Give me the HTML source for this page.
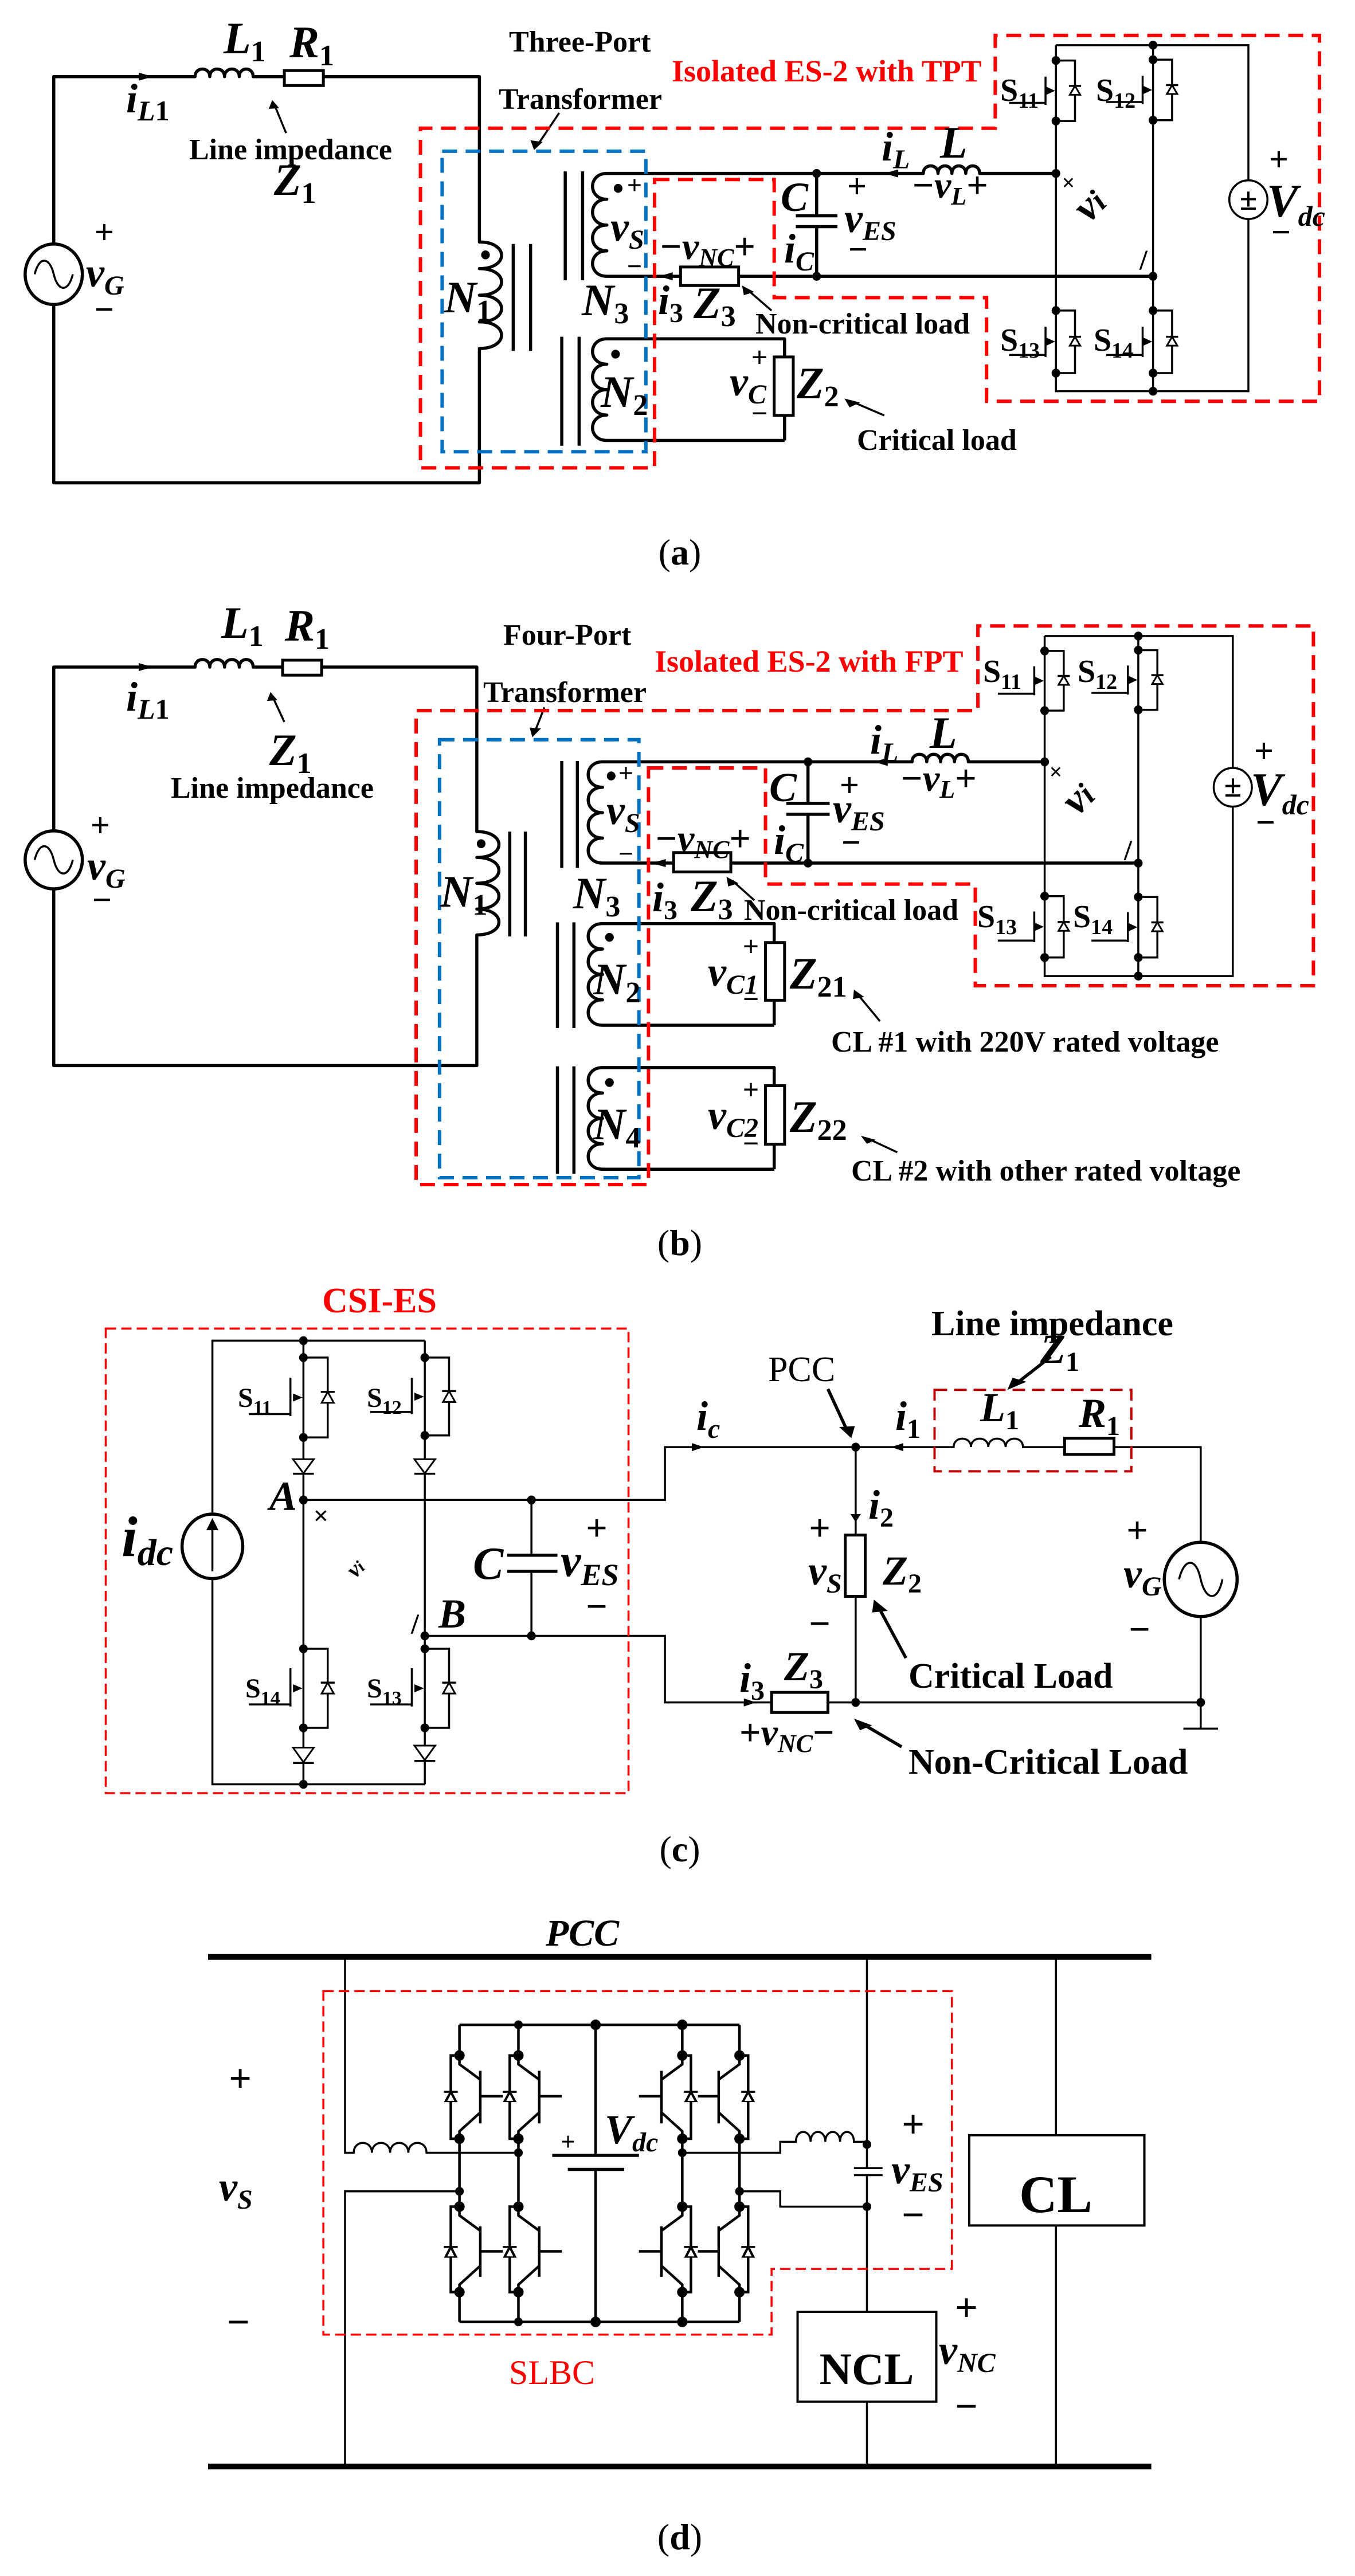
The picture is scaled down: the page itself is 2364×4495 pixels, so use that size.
<!DOCTYPE html>
<html><head><meta charset="utf-8">
<style>
html,body{margin:0;padding:0;background:#fff}
svg{display:block}
.k{fill:none;stroke:#000;stroke-width:5.5;vector-effect:non-scaling-stroke;stroke-linejoin:round}
.t{fill:none;stroke:#000;stroke-width:3.5;vector-effect:non-scaling-stroke}
.bx{fill:#fff;stroke:#000;stroke-width:5;vector-effect:non-scaling-stroke}
.r{fill:none;stroke:#f00;stroke-width:6;stroke-dasharray:26 15;vector-effect:non-scaling-stroke}
.r2{fill:none;stroke:#f00;stroke-width:3.5;stroke-dasharray:18 9;vector-effect:non-scaling-stroke}
.dr{fill:none;stroke:#c00000;stroke-width:4;stroke-dasharray:22 12;vector-effect:non-scaling-stroke}
.b{fill:none;stroke:#0070c0;stroke-width:6;stroke-dasharray:26 15;vector-effect:non-scaling-stroke}
.f{fill:#000;stroke:none}
.df{fill:#fff;stroke:#000;stroke-width:3;vector-effect:non-scaling-stroke}
text{font-family:"Liberation Serif",serif;font-weight:bold;fill:#000}
.v{font-style:italic}
.n{font-style:normal}
.red{fill:#f00}
</style></head><body>
<svg width="2364" height="4495" viewBox="0 0 2364 4495" xmlns="http://www.w3.org/2000/svg">
<rect width="2364" height="4495" fill="#fff"/>

<!-- ================= PANEL A ================= -->
<g transform="matrix(1.5125 0 0 .7038 0 0)">
<path class="k" d="M62,605 V190 H225 c0,-25 17,-25 17,0 c0,-25 17,-25 17,0 c0,-25 17,-25 17,0 c0,-25 16,-25 16,0 H328"/>
<path class="k" d="M373,190 H553 V600 c34,0 34,66 0,66 c34,0 34,66 0,66 c34,0 34,66 0,66 c34,0 34,66 0,66 V1197 H62 V755"/>
<rect class="bx" x="328" y="175" width="45" height="37"/>
<ellipse class="k" cx="62" cy="680" rx="33" ry="75"/>
<path class="t" d="M40,680 c5,-45 17,-45 22,0 c5,45 17,45 22,0"/>
<path class="k" d="M592,605 V870 M612,605 V870"/>
<ellipse class="f" cx="560" cy="632" rx="5" ry="11"/>
<path class="k" d="M1218,430 H1130 c0,-25 -16,-25 -16,0 c0,-25 -16,-25 -16,0 c0,-25 -16,-25 -16,0 c0,-25 -17,-25 -17,0 H700 c-22,0 -22,64 0,64 c-22,0 -22,64 0,64 c-22,0 -22,64 0,64 c-22,0 -22,63 0,63 H785 M852,685 H1330"/>
<rect class="bx" x="785" y="662" width="67" height="46"/>
<path class="k" d="M942,430 V535 M942,562 V685 M918,535 H966 M918,562 H966"/>
<path class="k" d="M652,425 V695 M672,425 V695"/>
<path class="k" d="M905,1092 H700 c-22,0 -22,-63 0,-63 c-22,0 -22,-63 0,-63 c-22,0 -22,-63 0,-63 c-22,0 -22,-63 0,-63 H905 V885 M905,1030 V1092"/>
<rect class="bx" x="893" y="885" width="22" height="145"/>
<path class="k" d="M648,835 V1105 M668,835 V1105"/>
<ellipse class="f" cx="713" cy="467" rx="5" ry="11"/>
<ellipse class="f" cx="710" cy="878" rx="5" ry="11"/>
<path class="t" d="M1218,112 H1440 V447 M1440,543 V970 H1218 V112 M1330,112 V970"/>
<ellipse class="t" cx="1440" cy="495" rx="22" ry="48"/>
<path class="t" d="M1218,150 h22 V300 h-22 M1206,190 V260 M1206,255 h-42"/>
<polygon class="f" points="1217,225 1207,215 1207,235"/>
<polygon class="df" points="1234,235 1246,235 1240,213"/><path class="t" d="M1233,213 h14"/>
<path class="t" d="M1330,148 h22 V298 h-22 M1318,188 V258 M1318,253 h-42"/>
<polygon class="f" points="1329,223 1319,213 1319,233"/>
<polygon class="df" points="1346,233 1358,233 1352,211"/><path class="t" d="M1345,211 h14"/>
<path class="t" d="M1218,770 h22 V925 h-22 M1206,810 V885 M1206,880 h-42"/>
<polygon class="f" points="1217,847 1207,837 1207,857"/>
<polygon class="df" points="1234,857 1246,857 1240,835"/><path class="t" d="M1233,835 h14"/>
<path class="t" d="M1330,770 h22 V925 h-22 M1318,810 V885 M1318,880 h-42"/>
<polygon class="f" points="1329,847 1319,837 1319,857"/>
<polygon class="df" points="1346,857 1358,857 1352,835"/><path class="t" d="M1345,835 h14"/>
<g class="f">
<ellipse cx="942" cy="430" rx="5" ry="11"/><ellipse cx="942" cy="685" rx="5" ry="11"/>
<ellipse cx="1218" cy="430" rx="5" ry="11"/><ellipse cx="1330" cy="685" rx="5" ry="11"/>
<ellipse cx="1330" cy="112" rx="5" ry="11"/><ellipse cx="1330" cy="970" rx="5" ry="11"/>
<ellipse cx="1218" cy="150" rx="5" ry="11"/><ellipse cx="1218" cy="300" rx="5" ry="11"/>
<ellipse cx="1330" cy="148" rx="5" ry="11"/><ellipse cx="1330" cy="298" rx="5" ry="11"/>
<ellipse cx="1218" cy="770" rx="5" ry="11"/><ellipse cx="1218" cy="925" rx="5" ry="11"/>
<ellipse cx="1330" cy="770" rx="5" ry="11"/><ellipse cx="1330" cy="925" rx="5" ry="11"/>
</g>
<polygon class="f" points="160,180 176,190 160,200"/>
<polygon class="f" points="1020,430 1036,420 1036,440"/>
<polygon class="f" points="760,685 776,675 776,695"/>
<path class="t" d="M330,330 L317,262"/><polygon class="f" points="314,248 310,270 322,268"/>
<path class="t" d="M645,280 L620,360"/><polygon class="f" points="616,372 612,348 626,352"/>
<path class="t" d="M890,770 L862,718"/><polygon class="f" points="856,708 858,732 870,724"/>
<path class="t" d="M1020,1030 L982,995"/><polygon class="f" points="974,988 980,1010 992,998"/>
<rect class="b" x="510" y="375" width="235" height="745"/>
<path class="r" d="M755,445 H893 V738 H1138 V995 H1522 V88 H1148 V318 H485 V1160 H755 Z"/>
</g>
<g>
<g font-size="78">
<text class="v" transform="translate(390 93)">L<tspan class="n" font-size="52" dy="14">1</tspan></text>
<text class="v" transform="translate(505 100)">R<tspan class="n" font-size="52" dy="14">1</tspan></text>
<text class="v" font-size="72" transform="translate(220 196)">i<tspan font-size="50" dy="14">L</tspan><tspan class="n" font-size="50">1</tspan></text>
<text class="v" transform="translate(478 340)">Z<tspan class="n" font-size="52" dy="14">1</tspan></text>
<text class="v" font-size="72" transform="translate(150 500)">v<tspan font-size="48" dy="14">G</tspan></text>
<text class="v" transform="translate(775 545)">N<tspan class="n" font-size="52" dy="14">1</tspan></text>
<text class="v" transform="translate(1015 550)">N<tspan class="n" font-size="52" dy="14">3</tspan></text>
<text class="v" transform="translate(1048 710)">N<tspan class="n" font-size="52" dy="14">2</tspan></text>
<text class="v" font-size="72" transform="translate(1065 420)">v<tspan font-size="48" dy="14">S</tspan></text>
<text class="v" font-size="66" transform="translate(1150 452)">−v<tspan font-size="44" dy="12">NC</tspan><tspan class="n" dy="-12">+</tspan></text>
<text class="v" font-size="72" transform="translate(1148 548)">i<tspan class="n" font-size="48" dy="14">3</tspan></text>
<text class="v" transform="translate(1210 555)">Z<tspan class="n" font-size="52" dy="14">3</tspan></text>
<text class="v" font-size="72" transform="translate(1362 368)">C</text>
<text class="v" font-size="72" transform="translate(1368 458)">i<tspan font-size="48" dy="14">C</tspan></text>
<text class="v" font-size="72" transform="translate(1473 405)">v<tspan font-size="48" dy="14">ES</tspan></text>
<text class="v" font-size="72" transform="translate(1538 280)">i<tspan font-size="48" dy="14">L</tspan></text>
<text class="v" transform="translate(1640 275)">L</text>
<text class="v" font-size="66" transform="translate(1590 345)">−v<tspan font-size="44" dy="12">L</tspan><tspan class="n" dy="-12">+</tspan></text>
<text class="v" font-size="82" transform="translate(2210 378)">V<tspan font-size="50" dy="16">dc</tspan></text>
<text class="v" font-size="72" transform="translate(1273 690)">v<tspan font-size="48" dy="14">C</tspan></text>
<text class="v" transform="translate(1390 695)">Z<tspan class="n" font-size="52" dy="14">2</tspan></text>
<text class="v" font-size="72" transform="translate(1900 390) rotate(-45)">v<tspan font-size="56">i</tspan></text>
</g>
<g font-size="60" text-anchor="middle">
<text transform="translate(182 425)">+</text><text transform="translate(182 560)">−</text>
<text font-size="46" transform="translate(1107 338)">+</text><text font-size="46" transform="translate(1107 480)">−</text>
<text transform="translate(1495 345)">+</text><text transform="translate(1497 455)">−</text>
<text transform="translate(2231 298)">+</text><text transform="translate(2235 425)">−</text>
<text font-size="50" transform="translate(1325 640)">+</text><text font-size="50" transform="translate(1325 738)">−</text>
<text font-size="56" transform="translate(2178 366)">±</text>
<text font-size="40" transform="translate(1864 332)">×</text>
<text font-size="50" transform="translate(1995 470)">/</text>
</g>
<g font-size="52">
<text transform="translate(330 278)">Line impedance</text>
<text transform="translate(888 90)">Three-Port</text>
<text transform="translate(870 190)">Transformer</text>
<text class="red" font-size="54" transform="translate(1172 142)">Isolated ES-2 with TPT</text>
<text transform="translate(1318 582)">Non-critical load</text>
<text transform="translate(1495 785)">Critical load</text>
<text font-size="56" transform="translate(1745 176)">S<tspan font-size="38" dy="12">11</tspan></text>
<text font-size="56" transform="translate(1912 176)">S<tspan font-size="38" dy="12">12</tspan></text>
<text font-size="56" transform="translate(1745 612)">S<tspan font-size="38" dy="12">13</tspan></text>
<text font-size="56" transform="translate(1908 612)">S<tspan font-size="38" dy="12">14</tspan></text>
</g>
<text font-size="64" text-anchor="middle" class="n" style="font-weight:normal" transform="translate(1186 985)">(<tspan font-weight="bold">a</tspan>)</text>
</g>

<!-- ================= PANEL B ================= -->
<g transform="matrix(1.5125 0 0 .7038 0 1050)">
<path class="k" d="M62,570 V162 H225 c0,-25 17,-25 17,0 c0,-25 17,-25 17,0 c0,-25 17,-25 17,0 c0,-25 16,-25 16,0 H326"/>
<path class="k" d="M371,162 H550 V570 c34,0 34,64 0,64 c34,0 34,64 0,64 c34,0 34,64 0,64 c34,0 34,64 0,64 V1150 H62 V712"/>
<rect class="bx" x="326" y="145" width="45" height="37"/>
<ellipse class="k" cx="62" cy="640" rx="33" ry="72"/>
<path class="t" d="M40,640 c5,-45 17,-45 22,0 c5,45 17,45 22,0"/>
<path class="k" d="M588,570 V830 M606,570 V830"/>
<ellipse class="f" cx="555" cy="600" rx="5" ry="11"/>
<path class="k" d="M1205,397 H1117 c0,-25 -16,-25 -16,0 c0,-25 -16,-25 -16,0 c0,-25 -16,-25 -16,0 c0,-25 -17,-25 -17,0 H695 c-22,0 -22,63 0,63 c-22,0 -22,63 0,63 c-22,0 -22,63 0,63 c-22,0 -22,62 0,62 H777 M843,648 H1313"/>
<rect class="bx" x="777" y="622" width="66" height="48"/>
<path class="k" d="M932,397 V500 M932,527 V648 M907,500 H957 M907,527 H957"/>
<path class="k" d="M648,395 V660 M666,395 V660"/>
<path class="k" d="M893,1050 H695 c-22,0 -22,-63 0,-63 c-22,0 -22,-63 0,-63 c-22,0 -22,-63 0,-63 c-22,0 -22,-63 0,-63 H893 V845 M893,988 V1050"/>
<rect class="bx" x="883" y="845" width="22" height="143"/>
<path class="k" d="M643,795 V1057 M662,795 V1057"/>
<path class="k" d="M893,1407 H695 c-22,0 -22,-63 0,-63 c-22,0 -22,-63 0,-63 c-22,0 -22,-63 0,-63 c-22,0 -22,-63 0,-63 H893 V1200 M893,1345 V1407"/>
<rect class="bx" x="883" y="1200" width="22" height="145"/>
<path class="k" d="M643,1152 V1418 M662,1152 V1418"/>
<g class="f">
<ellipse cx="705" cy="432" rx="5" ry="11"/><ellipse cx="703" cy="832" rx="5" ry="11"/><ellipse cx="703" cy="1192" rx="5" ry="11"/>
<ellipse cx="932" cy="397" rx="5" ry="11"/><ellipse cx="932" cy="648" rx="5" ry="11"/>
<ellipse cx="1205" cy="397" rx="5" ry="11"/><ellipse cx="1313" cy="648" rx="5" ry="11"/>
<ellipse cx="1313" cy="85" rx="5" ry="11"/><ellipse cx="1313" cy="928" rx="5" ry="11"/>
<ellipse cx="1205" cy="122" rx="5" ry="11"/><ellipse cx="1205" cy="270" rx="5" ry="11"/>
<ellipse cx="1313" cy="120" rx="5" ry="11"/><ellipse cx="1313" cy="268" rx="5" ry="11"/>
<ellipse cx="1205" cy="730" rx="5" ry="11"/><ellipse cx="1205" cy="882" rx="5" ry="11"/>
<ellipse cx="1313" cy="732" rx="5" ry="11"/><ellipse cx="1313" cy="882" rx="5" ry="11"/>
</g>
<path class="t" d="M1205,85 H1422 V412 M1422,508 V928 H1205 V85 M1313,85 V928"/>
<ellipse class="t" cx="1422" cy="460" rx="22" ry="48"/>
<path class="t" d="M1205,122 h22 V270 h-22 M1193,160 V232 M1193,228 h-42"/>
<polygon class="f" points="1204,196 1194,186 1194,206"/>
<polygon class="df" points="1221,206 1233,206 1227,184"/><path class="t" d="M1220,184 h14"/>
<path class="t" d="M1313,120 h22 V268 h-22 M1301,158 V230 M1301,226 h-42"/>
<polygon class="f" points="1312,194 1302,184 1302,204"/>
<polygon class="df" points="1329,204 1341,204 1335,182"/><path class="t" d="M1328,182 h14"/>
<path class="t" d="M1205,730 h22 V882 h-22 M1193,768 V844 M1193,840 h-42"/>
<polygon class="f" points="1204,806 1194,796 1194,816"/>
<polygon class="df" points="1221,816 1233,816 1227,794"/><path class="t" d="M1220,794 h14"/>
<path class="t" d="M1313,732 h22 V882 h-22 M1301,770 V844 M1301,840 h-42"/>
<polygon class="f" points="1312,807 1302,797 1302,817"/>
<polygon class="df" points="1329,817 1341,817 1335,795"/><path class="t" d="M1328,795 h14"/>
<polygon class="f" points="160,152 176,162 160,172"/>
<polygon class="f" points="1008,397 1024,387 1024,407"/>
<polygon class="f" points="752,648 768,638 768,658"/>
<path class="t" d="M328,298 L315,238"/><polygon class="f" points="312,224 308,246 320,244"/>
<path class="t" d="M628,262 L617,322"/><polygon class="f" points="614,336 611,312 624,314"/>
<path class="t" d="M870,740 L845,692"/><polygon class="f" points="838,682 840,706 852,698"/>
<path class="t" d="M1015,1040 L990,975"/><polygon class="f" points="985,962 984,985 997,980"/>
<path class="t" d="M1035,1365 L1002,1332"/><polygon class="f" points="993,1324 1000,1344 1010,1334"/>
<rect class="b" x="507" y="342" width="230" height="1086"/>
<path class="r" d="M748,412 H883 V700 H1125 V952 H1515 V60 H1128 V270 H480 V1445 H748 Z"/>
</g>
<g>
<g font-size="78">
<text class="v" transform="translate(386 1113)">L<tspan class="n" font-size="52" dy="14">1</tspan></text>
<text class="v" transform="translate(497 1118)">R<tspan class="n" font-size="52" dy="14">1</tspan></text>
<text class="v" font-size="72" transform="translate(220 1240)">i<tspan font-size="50" dy="14">L</tspan><tspan class="n" font-size="50">1</tspan></text>
<text class="v" transform="translate(470 1335)">Z<tspan class="n" font-size="52" dy="14">1</tspan></text>
<text class="v" font-size="72" transform="translate(152 1535)">v<tspan font-size="48" dy="14">G</tspan></text>
<text class="v" transform="translate(768 1582)">N<tspan class="n" font-size="52" dy="14">1</tspan></text>
<text class="v" transform="translate(1000 1585)">N<tspan class="n" font-size="52" dy="14">3</tspan></text>
<text class="v" transform="translate(1035 1735)">N<tspan class="n" font-size="52" dy="14">2</tspan></text>
<text class="v" transform="translate(1035 1988)">N<tspan class="n" font-size="52" dy="14">4</tspan></text>
<text class="v" font-size="72" transform="translate(1058 1438)">v<tspan font-size="48" dy="14">S</tspan></text>
<text class="v" font-size="66" transform="translate(1142 1485)">−v<tspan font-size="44" dy="12">NC</tspan><tspan class="n" dy="-12">+</tspan></text>
<text class="v" font-size="72" transform="translate(1138 1590)">i<tspan class="n" font-size="48" dy="14">3</tspan></text>
<text class="v" transform="translate(1205 1590)">Z<tspan class="n" font-size="52" dy="14">3</tspan></text>
<text class="v" font-size="72" transform="translate(1342 1398)">C</text>
<text class="v" font-size="72" transform="translate(1350 1490)">i<tspan font-size="48" dy="14">C</tspan></text>
<text class="v" font-size="72" transform="translate(1453 1435)">v<tspan font-size="48" dy="14">ES</tspan></text>
<text class="v" font-size="72" transform="translate(1518 1315)">i<tspan font-size="48" dy="14">L</tspan></text>
<text class="v" transform="translate(1622 1305)">L</text>
<text class="v" font-size="66" transform="translate(1570 1380)">−v<tspan font-size="44" dy="12">L</tspan><tspan class="n" dy="-12">+</tspan></text>
<text class="v" font-size="82" transform="translate(2182 1405)">V<tspan font-size="50" dy="16">dc</tspan></text>
<text class="v" font-size="72" transform="translate(1235 1720)">v<tspan font-size="48" dy="14">C1</tspan></text>
<text class="v" transform="translate(1378 1725)">Z<tspan class="n" font-size="52" dy="14">21</tspan></text>
<text class="v" font-size="72" transform="translate(1235 1970)">v<tspan font-size="48" dy="14">C2</tspan></text>
<text class="v" transform="translate(1378 1975)">Z<tspan class="n" font-size="52" dy="14">22</tspan></text>
<text class="v" font-size="72" transform="translate(1880 1425) rotate(-45)">v<tspan font-size="56">i</tspan></text>
</g>
<g font-size="60" text-anchor="middle">
<text transform="translate(175 1460)">+</text><text transform="translate(178 1590)">−</text>
<text font-size="46" transform="translate(1092 1364)">+</text><text font-size="46" transform="translate(1092 1505)">−</text>
<text transform="translate(1482 1390)">+</text><text transform="translate(1485 1490)">−</text>
<text transform="translate(2205 1330)">+</text><text transform="translate(2208 1455)">−</text>
<text font-size="50" transform="translate(1310 1668)">+</text><text font-size="50" transform="translate(1310 1760)">−</text>
<text font-size="50" transform="translate(1310 1918)">+</text><text font-size="50" transform="translate(1310 2012)">−</text>
<text font-size="56" transform="translate(2151 1390)">±</text>
<text font-size="40" transform="translate(1842 1360)">×</text>
<text font-size="50" transform="translate(1968 1500)">/</text>
</g>
<g font-size="52">
<text transform="translate(298 1392)">Line impedance</text>
<text transform="translate(878 1125)">Four-Port</text>
<text transform="translate(843 1225)">Transformer</text>
<text class="red" font-size="54" transform="translate(1142 1172)">Isolated ES-2 with FPT</text>
<text transform="translate(1298 1605)">Non-critical load</text>
<text transform="translate(1450 1835)">CL #1 with 220V rated voltage</text>
<text transform="translate(1485 2060)">CL #2 with other rated voltage</text>
<text font-size="56" transform="translate(1715 1190)">S<tspan font-size="38" dy="12">11</tspan></text>
<text font-size="56" transform="translate(1880 1190)">S<tspan font-size="38" dy="12">12</tspan></text>
<text font-size="56" transform="translate(1705 1618)">S<tspan font-size="38" dy="12">13</tspan></text>
<text font-size="56" transform="translate(1872 1618)">S<tspan font-size="38" dy="12">14</tspan></text>
</g>
<text font-size="64" text-anchor="middle" style="font-weight:normal" transform="translate(1186 2190)">(<tspan font-weight="bold">b</tspan>)</text>
</g>

<!-- ================= PANEL C ================= -->
<g transform="matrix(1.5125 0 0 .7038 0 2200)">
<path class="t" d="M245,628 V198 H490 M245,788 V1298 H490 M350,198 V1298 M490,198 V1298"/>
<ellipse class="k" cx="245" cy="708" rx="35" ry="80"/>
<path class="t" d="M245,770 V650"/><polygon class="f" points="238,668 252,668 245,638"/>
<path class="t" d="M350,593 H767 V462 H1100 c0,-28 20,-28 20,0 c0,-28 20,-28 20,0 c0,-28 20,-28 20,0 c0,-28 20,-28 20,0 H1228 M1285,462 H1385 V698 M1385,882 V1160 M1365,1160 H1405"/>
<rect class="bx" x="1228" y="440" width="57" height="40"/>
<ellipse class="k" cx="1385" cy="790" rx="42" ry="92"/>
<path class="t" d="M1360,790 c6,-55 20,-55 25,0 c6,55 20,55 25,0"/>
<path class="t" d="M490,930 H767 V1095 H890 M955,1095 H1385"/>
<rect class="bx" x="890" y="1070" width="65" height="50"/>
<path class="t" d="M613,593 V730 M613,770 V930"/>
<path class="k" d="M585,730 H643 M585,770 H643"/>
<path class="t" d="M987,462 V680 M987,832 V1095"/>
<rect class="bx" x="975" y="680" width="23" height="152"/>
<path class="t" d="M350,240 h28 V438 h-28 M335,290 V385 M335,380 h-48"/>
<polygon class="f" points="349,339 338,329 338,349"/>
<polygon class="df" points="371,352 385,352 378,325"/><path class="t" d="M370,325 h16"/>
<path class="t" d="M490,240 h28 V433 h-28 M475,290 V380 M475,375 h-48"/>
<polygon class="f" points="489,337 478,327 478,347"/>
<polygon class="df" points="511,350 525,350 518,323"/><path class="t" d="M510,323 h16"/>
<path class="t" d="M350,962 h28 V1158 h-28 M335,1010 V1105 M335,1100 h-48"/>
<polygon class="f" points="349,1060 338,1050 338,1070"/>
<polygon class="df" points="371,1073 385,1073 378,1046"/><path class="t" d="M370,1046 h16"/>
<path class="t" d="M490,962 h28 V1158 h-28 M475,1010 V1105 M475,1100 h-48"/>
<polygon class="f" points="489,1060 478,1050 478,1070"/>
<polygon class="df" points="511,1073 525,1073 518,1046"/><path class="t" d="M510,1046 h16"/>
<polygon class="df" points="338,492 362,492 350,527"/><path class="t" d="M338,528 h24"/>
<polygon class="df" points="478,492 502,492 490,527"/><path class="t" d="M478,528 h24"/>
<polygon class="df" points="338,1207 362,1207 350,1243"/><path class="t" d="M338,1245 h24"/>
<polygon class="df" points="478,1202 502,1202 490,1238"/><path class="t" d="M478,1240 h24"/>
<g class="f">
<ellipse cx="350" cy="198" rx="5" ry="11"/><ellipse cx="350" cy="240" rx="5" ry="11"/><ellipse cx="350" cy="438" rx="5" ry="11"/>
<ellipse cx="490" cy="240" rx="5" ry="11"/><ellipse cx="490" cy="433" rx="5" ry="11"/><ellipse cx="350" cy="593" rx="5" ry="11"/>
<ellipse cx="490" cy="930" rx="5" ry="11"/><ellipse cx="350" cy="962" rx="5" ry="11"/><ellipse cx="350" cy="1158" rx="5" ry="11"/>
<ellipse cx="490" cy="962" rx="5" ry="11"/><ellipse cx="490" cy="1158" rx="5" ry="11"/><ellipse cx="350" cy="1298" rx="5" ry="11"/>
<ellipse cx="613" cy="593" rx="5" ry="11"/><ellipse cx="613" cy="930" rx="5" ry="11"/><ellipse cx="987" cy="462" rx="5" ry="11"/>
<ellipse cx="987" cy="1095" rx="5" ry="11"/><ellipse cx="1385" cy="1095" rx="5" ry="11"/>
</g>
<polygon class="f" points="812,462 798,452 798,472"/>
<polygon class="f" points="1028,462 1042,452 1042,472"/>
<polygon class="f" points="987,648 981,628 993,628"/>
<polygon class="f" points="872,1095 858,1085 858,1105"/>
<path class="k" d="M955,318 L977,420"/><polygon class="f" points="982,440 968,412 986,410"/>
<path class="k" d="M1212,238 L1175,300"/><polygon class="f" points="1162,320 1168,290 1184,300"/>
<path class="k" d="M1045,985 L1015,865"/><polygon class="f" points="1008,840 1006,872 1024,868"/>
<path class="k" d="M1040,1205 L998,1152"/><polygon class="f" points="985,1135 992,1164 1006,1152"/>
<rect class="r2" x="122" y="168" width="603" height="1152"/>
<rect class="dr" x="1078" y="320" width="227" height="202"/>
</g>
<g>
<text class="red" font-size="62" text-anchor="middle" transform="translate(662 2290)">CSI-ES</text>
<g font-size="48">
<text transform="translate(415 2455)">S<tspan font-size="34" dy="12">11</tspan></text>
<text transform="translate(640 2455)">S<tspan font-size="34" dy="12">12</tspan></text>
<text transform="translate(428 2962)">S<tspan font-size="34" dy="12">14</tspan></text>
<text transform="translate(640 2962)">S<tspan font-size="34" dy="12">13</tspan></text>
</g>
<g font-size="72">
<text class="v" transform="translate(470 2635)">A</text>
<text class="v" transform="translate(765 2840)">B</text>
<text class="v" font-size="100" transform="translate(212 2715)">i<tspan font-size="66" dy="16">dc</tspan></text>
<text class="v" font-size="80" transform="translate(825 2755)">C</text>
<text class="v" font-size="80" transform="translate(978 2750)">v<tspan font-size="54" dy="16">ES</tspan></text>
<text class="v" transform="translate(1215 2495)">i<tspan font-size="48" dy="14">c</tspan></text>
<text class="v" transform="translate(1562 2495)">i<tspan class="n" font-size="48" dy="14">1</tspan></text>
<text class="v" transform="translate(1515 2650)">i<tspan class="n" font-size="48" dy="14">2</tspan></text>
<text class="v" transform="translate(1410 2765)">v<tspan font-size="48" dy="14">S</tspan></text>
<text class="v" transform="translate(1540 2765)">Z<tspan class="n" font-size="48" dy="14">2</tspan></text>
<text class="v" transform="translate(1960 2770)">v<tspan font-size="48" dy="14">G</tspan></text>
<text class="v" transform="translate(1710 2480)">L<tspan class="n" font-size="48" dy="14">1</tspan></text>
<text class="v" transform="translate(1882 2490)">R<tspan class="n" font-size="48" dy="14">1</tspan></text>
<text class="v" transform="translate(1815 2378)">Z<tspan class="n" font-size="48" dy="14">1</tspan></text>
<text class="v" transform="translate(1290 2952)">i<tspan class="n" font-size="48" dy="14">3</tspan></text>
<text class="v" transform="translate(1368 2932)">Z<tspan class="n" font-size="48" dy="14">3</tspan></text>
<text class="v" font-size="66" transform="translate(1290 3045)"><tspan class="n">+</tspan>v<tspan font-size="44" dy="12">NC</tspan><tspan class="n" dy="-12">−</tspan></text>
<text class="v" font-size="40" transform="translate(620 2755) rotate(-45)">v<tspan font-size="30">i</tspan></text>
</g>
<g font-size="66" text-anchor="middle">
<text transform="translate(1041 2688)">+</text><text transform="translate(1041 2825)">−</text>
<text transform="translate(1430 2688)">+</text><text transform="translate(1430 2855)">−</text>
<text transform="translate(1984 2692)">+</text><text transform="translate(1988 2865)">−</text>
<text font-size="46" transform="translate(560 2660)">×</text>
<text font-size="50" transform="translate(724 2850)">/</text>
</g>
<g font-size="62">
<text style="font-weight:normal" transform="translate(1340 2410)">PCC</text>
<text transform="translate(1625 2330)">Line impedance</text>
<text transform="translate(1585 2945)">Critical Load</text>
<text transform="translate(1585 3095)">Non-Critical Load</text>
</g>
<text font-size="64" text-anchor="middle" style="font-weight:normal" transform="translate(1186 3248)">(<tspan font-weight="bold">c</tspan>)</text>
</g>

<!-- ================= PANEL D ================= -->
<g transform="matrix(1.5125 0 0 .7646 0 3300)">
<path class="k" style="stroke-width:10" d="M240,150 H1328 M240,1313 H1328"/>
<path class="t" d="M398,150 V597 H408 c0,-30 21,-30 21,0 c0,-30 21,-30 21,0 c0,-30 21,-30 21,0 c0,-30 21,-30 21,0 H598 M398,1313 V685 H530"/>
<path class="k" style="stroke-width:4.5" d="M530,305 H853 M530,983 H853 M687,305 V603 M687,635 V983"/>
<path class="k" d="M637,603 H737 M655,635 H720"/>
<path class="t" d="M787,597 H900 V572 H918 c0,-30 17,-30 17,0 c0,-30 17,-30 17,0 c0,-30 17,-30 17,0 c0,-30 16,-30 16,0 H1000 M853,685 H900 V720 H1000"/>
<path class="t" d="M1000,150 V632 M1000,648 V960 M1000,1165 V1313 M985,632 H1018 M985,648 H1018"/>
<rect class="bx" x="920" y="960" width="160" height="205" style="stroke-width:4"/>
<path class="t" d="M1218,150 V557 M1218,763 V1313"/>
<rect class="bx" x="1118" y="557" width="202" height="206" style="stroke-width:4"/>
<path class="t" style="stroke-width:4.5" d="M530,305 V395 L554,430 M554,505 L530,548 V740 L554,775 M554,855 L530,898 V983
M598,305 V395 L622,430 M622,505 L598,548 V740 L622,775 M622,855 L598,898 V983
M787,305 V395 L763,430 M763,505 L787,548 V740 L763,775 M763,855 L787,898 V983
M853,305 V395 L829,430 M829,505 L853,548 V740 L829,775 M829,855 L853,898 V983
M554,410 V530 M554,765 V880 M622,410 V530 M622,765 V880 M763,410 V530 M763,765 V880 M829,410 V530 M829,765 V880
M554,468 H580 M554,822 H580 M622,468 H648 M622,822 H648 M763,468 H737 M763,822 H737 M829,468 H805 M829,822 H805
M530,375 H520 V565 H530 M530,720 H520 V915 H530 M598,375 H588 V565 H598 M598,720 H588 V915 H598
M787,375 H797 V565 H787 M787,720 H797 V915 H787 M853,375 H863 V565 H853 M853,720 H863 V915 H853"/>
<g class="df">
<polygon points="514,480 526,480 520,458"/><polygon points="582,480 594,480 588,458"/>
<polygon points="791,480 803,480 797,458"/><polygon points="857,480 869,480 863,458"/>
<polygon points="514,835 526,835 520,812"/><polygon points="582,835 594,835 588,812"/>
<polygon points="791,835 803,835 797,812"/><polygon points="857,835 869,835 863,812"/>
</g>
<path class="t" d="M512,458 h16 M580,458 h16 M789,458 h16 M855,458 h16 M512,812 h16 M580,812 h16 M789,812 h16 M855,812 h16"/>
<g class="f">
<ellipse cx="598" cy="305" rx="5" ry="10"/><ellipse cx="687" cy="305" rx="6" ry="12"/><ellipse cx="787" cy="305" rx="6" ry="12"/>
<ellipse cx="598" cy="983" rx="5" ry="10"/><ellipse cx="687" cy="983" rx="6" ry="12"/><ellipse cx="787" cy="983" rx="6" ry="12"/>
<ellipse cx="530" cy="375" rx="6" ry="12"/><ellipse cx="598" cy="375" rx="6" ry="12"/><ellipse cx="787" cy="375" rx="6" ry="12"/><ellipse cx="853" cy="375" rx="6" ry="12"/>
<ellipse cx="530" cy="565" rx="6" ry="12"/><ellipse cx="598" cy="565" rx="6" ry="12"/><ellipse cx="787" cy="565" rx="6" ry="12"/><ellipse cx="853" cy="565" rx="6" ry="12"/>
<ellipse cx="530" cy="720" rx="6" ry="12"/><ellipse cx="598" cy="720" rx="6" ry="12"/><ellipse cx="787" cy="720" rx="6" ry="12"/><ellipse cx="853" cy="720" rx="6" ry="12"/>
<ellipse cx="530" cy="915" rx="6" ry="12"/><ellipse cx="598" cy="915" rx="6" ry="12"/><ellipse cx="787" cy="915" rx="6" ry="12"/><ellipse cx="853" cy="915" rx="6" ry="12"/>
<ellipse cx="598" cy="597" rx="5" ry="10"/><ellipse cx="530" cy="685" rx="5" ry="10"/><ellipse cx="787" cy="597" rx="5" ry="10"/><ellipse cx="853" cy="685" rx="5" ry="10"/>
<ellipse cx="1000" cy="578" rx="5" ry="10"/><ellipse cx="1000" cy="720" rx="5" ry="10"/>
</g>
<path class="r2" d="M373,228 H1098 V862 H890 V1012 H373 Z"/>
</g>
<g>
<text class="v" font-size="66" text-anchor="middle" transform="translate(1016 3395)">PCC</text>
<g font-size="70" text-anchor="middle">
<text transform="translate(419 3650)">+</text><text transform="translate(416 4075)">−</text>
<text transform="translate(1593 3730)">+</text><text transform="translate(1593 3888)">−</text>
<text transform="translate(1686 4050)">+</text><text transform="translate(1686 4222)">−</text>
<text font-size="44" transform="translate(991 3752)">+</text>
</g>
<text class="v" font-size="72" transform="translate(382 3840)">v<tspan font-size="48" dy="14">S</tspan></text>
<text class="v" font-size="72" transform="translate(1055 3740)">V<tspan font-size="48" dy="14">dc</tspan></text>
<text class="v" font-size="72" transform="translate(1555 3810)">v<tspan font-size="48" dy="14">ES</tspan></text>
<text class="v" font-size="72" transform="translate(1638 4125)">v<tspan font-size="48" dy="14">NC</tspan></text>
<text font-size="92" text-anchor="middle" transform="translate(1842 3860)">CL</text>
<text font-size="78" text-anchor="middle" transform="translate(1512 4160)">NCL</text>
<text class="red" font-size="60" text-anchor="middle" style="font-weight:normal" transform="translate(963 4160)">SLBC</text>
<text font-size="64" text-anchor="middle" style="font-weight:normal" transform="translate(1186 4448)">(<tspan font-weight="bold">d</tspan>)</text>
</g>
</svg>
</body></html>
